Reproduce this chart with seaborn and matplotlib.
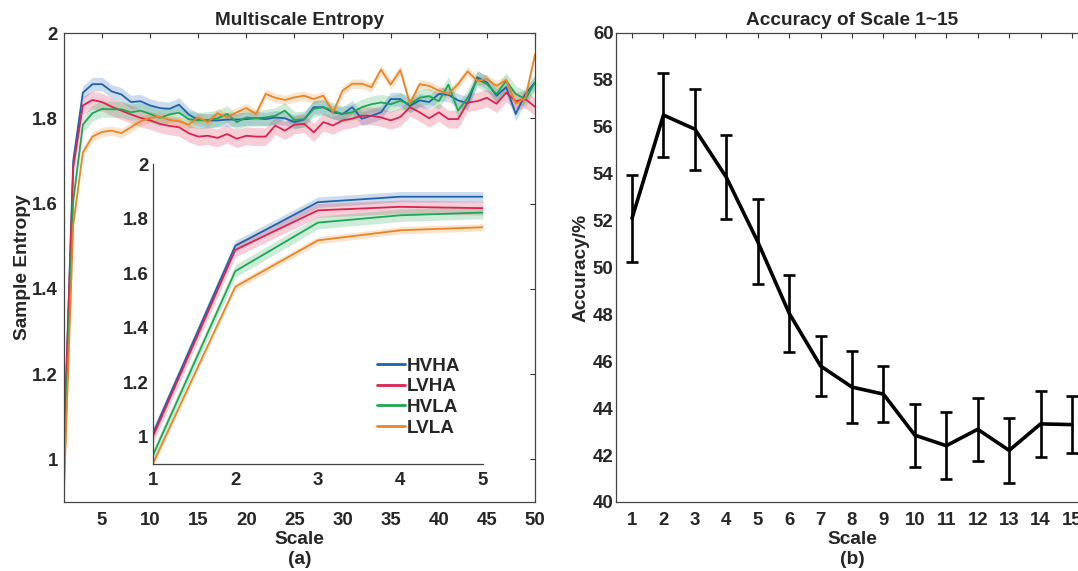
import matplotlib
matplotlib.use("Agg")
import matplotlib.pyplot as plt
from matplotlib.ticker import FuncFormatter
import numpy as np
import pandas as pd
import seaborn as sns

# ---------------- data ----------------
scales = list(range(1, 51))
hvha = [1.01, 1.70, 1.86, 1.88, 1.88, 1.863, 1.856, 1.838, 1.840, 1.830,
        1.824, 1.822, 1.832, 1.809, 1.796, 1.795, 1.795, 1.797, 1.797, 1.798,
        1.800, 1.798, 1.802, 1.800, 1.791, 1.797, 1.826, 1.826, 1.814, 1.810,
        1.826, 1.799, 1.806, 1.814, 1.845, 1.845, 1.829, 1.842, 1.838, 1.857,
        1.855, 1.842, 1.835, 1.896, 1.884, 1.853, 1.873, 1.810, 1.857, 1.884]
lvha = [1.00, 1.685, 1.83, 1.843, 1.838, 1.827, 1.818, 1.809, 1.801, 1.795,
        1.787, 1.782, 1.779, 1.765, 1.757, 1.759, 1.754, 1.763, 1.752, 1.759,
        1.757, 1.757, 1.783, 1.771, 1.785, 1.787, 1.767, 1.791, 1.783, 1.795,
        1.799, 1.806, 1.806, 1.802, 1.795, 1.803, 1.826, 1.814, 1.800, 1.814,
        1.798, 1.798, 1.837, 1.840, 1.848, 1.834, 1.860, 1.840, 1.845, 1.827]
hvla = [0.93, 1.607, 1.785, 1.812, 1.822, 1.821, 1.821, 1.814, 1.818, 1.810,
        1.801, 1.809, 1.813, 1.798, 1.795, 1.796, 1.800, 1.810, 1.791, 1.802,
        1.800, 1.802, 1.806, 1.818, 1.796, 1.798, 1.822, 1.826, 1.818, 1.810,
        1.814, 1.826, 1.833, 1.837, 1.833, 1.841, 1.833, 1.848, 1.852, 1.840,
        1.879, 1.818, 1.848, 1.892, 1.880, 1.857, 1.888, 1.857, 1.845, 1.884]
lvla = [0.90, 1.55, 1.72, 1.757, 1.768, 1.771, 1.765, 1.779, 1.793, 1.801,
        1.804, 1.796, 1.793, 1.785, 1.802, 1.791, 1.812, 1.802, 1.814, 1.824,
        1.810, 1.857, 1.848, 1.843, 1.849, 1.853, 1.845, 1.853, 1.814, 1.865,
        1.881, 1.881, 1.873, 1.914, 1.879, 1.913, 1.834, 1.880, 1.876, 1.865,
        1.857, 1.880, 1.910, 1.888, 1.892, 1.876, 1.890, 1.834, 1.848, 1.950]
groups = ["HVHA", "LVHA", "HVLA", "LVLA"]
band_halfwidth = {"HVHA": 0.016, "LVHA": 0.021, "HVLA": 0.019, "LVLA": 0.011}
colors = {"HVHA": "#1f63ad", "LVHA": "#dc2350", "HVLA": "#1fa653", "LVLA": "#ea8424"}

acc_scale = list(range(1, 16))
acc_mean = [52.1, 56.5, 55.9, 53.85, 51.1, 48.05, 45.8, 44.9, 44.6, 42.85,
            42.4, 43.1, 42.2, 43.33, 43.3]
acc_err = [1.85, 1.8, 1.73, 1.8, 1.8, 1.65, 1.3, 1.55, 1.18, 1.35,
           1.42, 1.35, 1.4, 1.41, 1.22]

# ---------------- style ----------------
sns.set_theme(style="white")
plt.rcParams.update({
    "font.family": ["Liberation Sans", "DejaVu Sans"],
    "font.weight": "bold",
    "axes.labelweight": "bold",
    "axes.titleweight": "bold",
    "xtick.direction": "in",
    "ytick.direction": "in",
    "xtick.major.size": 3.5,
    "ytick.major.size": 3.5,
    "xtick.major.width": 0.8,
    "ytick.major.width": 0.8,
    "xtick.color": "#333333",
    "ytick.color": "#333333",
    "xtick.labelcolor": "#262626",
    "ytick.labelcolor": "#262626",
    "axes.edgecolor": "#444444",
    "axes.linewidth": 0.9,
})

TICK_FS = 13.4
LABEL_FS = 13.8
TITLE_FS = 13.7

series = {"HVHA": hvha, "LVHA": lvha, "HVLA": hvla, "LVLA": lvla}
df = pd.DataFrame({
    "Scale": np.tile(scales, len(groups)),
    "Entropy": np.concatenate([series[g] for g in groups]),
    "Group": np.repeat(groups, len(scales)),
})

W, H = 1078, 571
fig = plt.figure(figsize=(W / 100, H / 100), dpi=100)
ax1 = fig.add_axes([63.6 / W, 69 / H, 471.4 / W, 469 / H])
ax2 = fig.add_axes([616.3 / W, 69 / H, 471.4 / W, 469 / H])
axin = fig.add_axes([152.7 / W, 107 / H, 330.3 / W, 300 / H])

fmt = FuncFormatter(lambda v, p: f"{v:g}")

# ---------------- left: multiscale entropy ----------------
sns.lineplot(data=df, x="Scale", y="Entropy", hue="Group", palette=colors,
             hue_order=groups, errorbar=None, linewidth=1.3, legend=False, ax=ax1)
for g in groups:
    y = np.array(series[g])
    ax1.fill_between(scales, y - band_halfwidth[g], y + band_halfwidth[g],
                     color=colors[g], alpha=0.22, linewidth=0)
ax1.set_xlim(1, 50)
ax1.set_ylim(0.9, 2)
ax1.set_xticks(range(5, 51, 5))
ax1.set_yticks([1, 1.2, 1.4, 1.6, 1.8, 2])
ax1.yaxis.set_major_formatter(fmt)
ax1.tick_params(axis="both", labelsize=TICK_FS, top=True, right=True)
ax1.tick_params(axis="x", pad=7)
ax1.tick_params(axis="y", pad=4)
ax1.set_xlabel("Scale\n(a)", fontsize=LABEL_FS, labelpad=1.5, linespacing=1.22)
ax1.set_ylabel("Sample Entropy", fontsize=LABEL_FS, labelpad=1)
ax1.set_title("Multiscale Entropy", fontsize=TITLE_FS, pad=6)

# inset
dfi = df[df["Scale"] <= 5]
sns.lineplot(data=dfi, x="Scale", y="Entropy", hue="Group", palette=colors,
             hue_order=groups, errorbar=None, linewidth=1.3, ax=axin)
for g in groups:
    y = np.array(series[g][:5])
    axin.fill_between(scales[:5], y - band_halfwidth[g] * 1.2, y + band_halfwidth[g] * 1.2,
                      color=colors[g], alpha=0.22, linewidth=0)
axin.set_xlim(1, 5)
axin.set_ylim(0.9, 2)
axin.set_xticks([1, 2, 3, 4, 5])
axin.set_yticks([1, 1.2, 1.4, 1.6, 1.8, 2])
axin.yaxis.set_major_formatter(fmt)
axin.tick_params(axis="both", labelsize=TICK_FS, top=False, right=False)
axin.tick_params(axis="x", pad=6)
axin.tick_params(axis="y", pad=3)
axin.spines["top"].set_visible(False)
axin.spines["right"].set_visible(False)
axin.set_xlabel("")
axin.set_ylabel("")
axin.patch.set_alpha(0)
leg = axin.legend(loc="upper left", bbox_to_anchor=(0.68, 0.355), frameon=False,
                  fontsize=13.6, handlelength=1.45, handletextpad=0.12,
                  labelspacing=0.18, borderpad=0, borderaxespad=0)
for line in leg.get_lines():
    line.set_linewidth(2)
for t in leg.get_texts():
    t.set_fontweight("bold")

# ---------------- right: accuracy ----------------
sns.lineplot(x=acc_scale, y=acc_mean, color="black", linewidth=2.6, ax=ax2)
ax2.errorbar(acc_scale, acc_mean, yerr=acc_err, fmt="none", ecolor="black",
             elinewidth=1.9, capsize=4, capthick=1.9)
ax2.set_xlim(0.5, 15.5)
ax2.set_ylim(40, 60)
ax2.set_xticks(acc_scale)
ax2.set_yticks(range(40, 61, 2))
ax2.tick_params(axis="both", labelsize=TICK_FS, top=True, right=True)
ax2.tick_params(axis="x", pad=7)
ax2.tick_params(axis="y", pad=2)
ax2.set_xlabel("Scale\n(b)", fontsize=LABEL_FS, labelpad=1.5, linespacing=1.22)
ax2.set_ylabel("Accuracy/%", fontsize=LABEL_FS, labelpad=2)
ax2.set_title("Accuracy of Scale 1~15", fontsize=TITLE_FS, pad=6)

fig.savefig("out.png", dpi=100)
